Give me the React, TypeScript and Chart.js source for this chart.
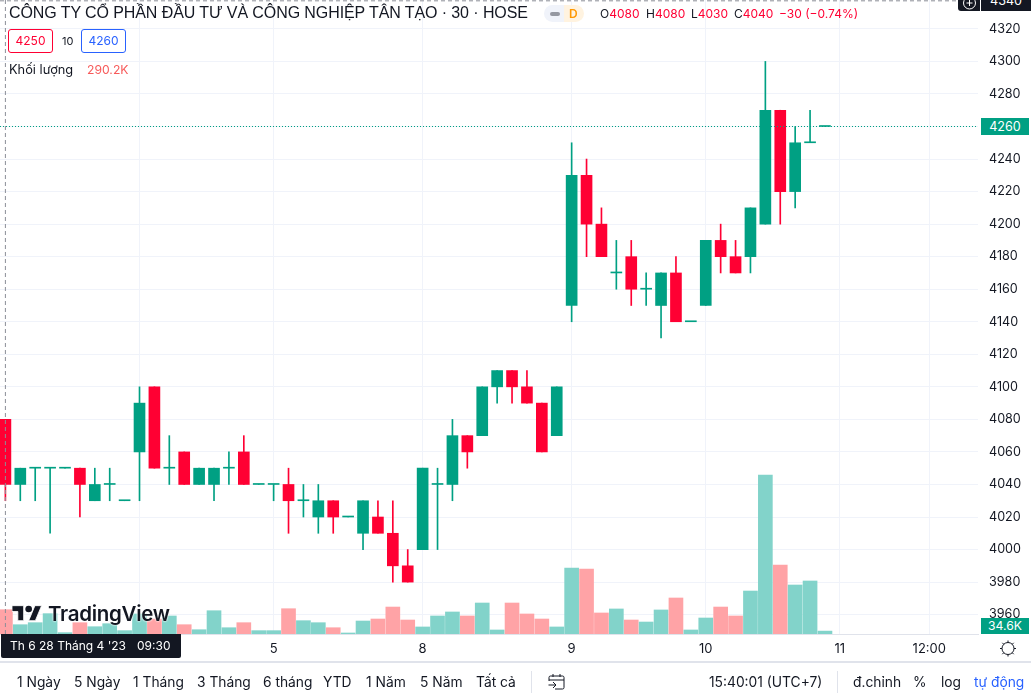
import React, { useEffect, useRef } from "react";
import { Chart, registerables } from "chart.js";

Chart.register(...registerables);

const opens = [4080,4040,4050,4050,4050,4050,4030,4040,4030,4060,4100,4050,4060,4040,4040,4050,4060,4040,4040,4040,4030,4020,4030,4020,4010,4020,4010,3990,4000,4040,4040,4070,4070,4100,4110,4100,4090,4070,4150,4230,4200,4170,4180,4160,4150,4170,4140,4150,4190,4180,4180,4200,4270,4220,4250,4260];
const highs = [4080,4050,4050,4050,4050,4050,4050,4050,4030,4100,4100,4070,4060,4050,4050,4060,4070,4040,4040,4050,4040,4040,4030,4020,4030,4030,4030,4000,4050,4050,4080,4070,4100,4110,4110,4110,4090,4100,4250,4240,4210,4190,4190,4170,4170,4180,4140,4190,4200,4190,4210,4300,4270,4260,4270,4260];
const lows = [4030,4030,4030,4010,4050,4020,4030,4030,4030,4030,4050,4040,4040,4040,4030,4040,4040,4040,4030,4010,4020,4010,4010,4020,4000,4010,3980,3980,4000,4000,4030,4050,4070,4090,4090,4090,4060,4070,4140,4180,4180,4160,4150,4150,4130,4140,4140,4150,4170,4170,4170,4200,4200,4210,4250,4260];
const closes = [4040,4050,4050,4050,4050,4040,4040,4040,4030,4090,4050,4050,4040,4050,4050,4050,4040,4040,4040,4030,4030,4030,4020,4020,4030,4010,3990,3980,4050,4040,4070,4060,4100,4110,4100,4090,4060,4100,4230,4200,4180,4170,4160,4160,4170,4140,4140,4190,4180,4170,4210,4270,4220,4250,4250,4260];
const volumes = [290.2,111,135,243,16,135,87,123,40,239,179,215,111,51,278,75,135,40,40,302,159,135,75,12,155,179,322,167,84,215,263,215,370,48,370,239,179,84,788,776,251,299,167,143,287,430,48,191,322,215,513,1898,824,585,633,34.6];

const timeTickIndexes = [9, 18, 28, 38, 47, 56, 62];
const timeTickLabels = ["4", "5", "8", "9", "10", "11", "12:00"];
const priceTickStep = 20;
const lastPrice = 4260;
const priceMin = 3948.1;
const priceMax = 4337.75;
const indexMin = -0.3624;
const indexMax = 65.27;
const volumeMax = 7570;

const rangeButtons: [string, number][] = [["1 Ngày",17],["5 Ngày",74],["1 Tháng",133],["3 Tháng",197],["6 tháng",263],["YTD",323],["1 Năm",366],["5 Năm",420],["Tất cả",476]];
const rightButtons: [string, number, string][] = [["15:40:01 (UTC+7)",709,"#131722"],["đ.chỉnh",853,"#131722"],["%",913,"#131722"],["log",941,"#131722"],["tự động",974,"#2962ff"]];

const GREEN = "#00a083";
const RED = "#ff0033";
const INK = "#131722";
const FONT = "Inter, Roboto, sans-serif";

const at = (left: number, top: number, extra: React.CSSProperties = {}): React.CSSProperties => ({
  position: "absolute", left, top, whiteSpace: "pre", lineHeight: "18px", fontSize: 12, color: INK, ...extra,
});

export default function App() {
  const ref = useRef<HTMLCanvasElement>(null);
  useEffect(() => {
    const idx = opens.map((_, i) => i);
    const cols = idx.map((i) => (closes[i] >= opens[i] ? GREEN : RED));
    const volCols = idx.map((i) => (closes[i] >= opens[i] ? "#82d3ca" : "#ffa3a6"));
    const chart = new Chart(ref.current!, {
      type: "bar",
      data: {
        datasets: [
          { type: "line", data: [{ x: indexMin, y: lastPrice }, { x: indexMax, y: lastPrice }], borderColor: GREEN, borderWidth: 1, borderDash: [1, 2], pointRadius: 0, yAxisID: "y", order: 1 } as any,
          { type: "line", data: [{ x: 0, y: priceMin }, { x: 0, y: priceMax }], borderColor: "#8b8e97", borderWidth: 1, borderDash: [4, 3], pointRadius: 0, yAxisID: "y", order: 0 } as any,
          { type: "line", data: [{ x: indexMin, y: priceMax - 0.5 }, { x: indexMax, y: priceMax - 0.5 }], borderColor: "#8b8e97", borderWidth: 1, borderDash: [4, 3], pointRadius: 0, yAxisID: "y", order: 0 } as any,
          { data: idx.map((i) => ({ x: i, y: [opens[i], closes[i]] })), backgroundColor: cols, barThickness: 11, minBarLength: 1, grouped: false, yAxisID: "y", order: 2 } as any,
          { data: idx.map((i) => ({ x: i, y: [lows[i], highs[i]] })), backgroundColor: cols, barThickness: 1, grouped: false, yAxisID: "y", order: 3 } as any,
          { data: idx.map((i) => ({ x: i, y: volumes[i] })), backgroundColor: volCols, barThickness: 14, grouped: false, yAxisID: "vol", order: 4 } as any,
        ],
      },
      options: {
        animation: false,
        responsive: false,
        devicePixelRatio: 1,
        events: [],
        layout: { padding: { left: 0, top: 0, right: 0, bottom: 39 } },
        plugins: { legend: { display: false }, tooltip: { enabled: false } },
        scales: {
          x: {
            type: "linear",
            offset: false,
            min: indexMin,
            max: indexMax,
            afterFit: (s: any) => { s.height = 27; s.paddingLeft = 0; s.paddingRight = 0; },
            afterBuildTicks: (s: any) => { s.ticks = timeTickIndexes.map((value) => ({ value })); },
            grid: { color: "#f0f3fa", drawTicks: false, offset: false },
            border: { color: "#e0e3eb", display: true },
            ticks: {
              autoSkip: false, maxRotation: 0, padding: 7, color: INK,
              font: { family: FONT, size: 13 },
              callback: (v: any) => timeTickLabels[timeTickIndexes.indexOf(v)] ?? "",
            },
          },
          y: {
            position: "right",
            min: priceMin,
            max: priceMax,
            afterFit: (s: any) => { s.width = 53; s.paddingTop = 0; s.paddingBottom = 0; },
            grid: { color: "#f0f3fa", drawTicks: false },
            border: { display: false },
            ticks: { stepSize: priceTickStep, includeBounds: false, padding: 11, color: INK, font: { family: FONT, size: 12.6 }, callback: (v: any) => String(v) },
          },
          vol: { display: false, position: "right", min: 0, max: volumeMax },
        },
      } as any,
    });
    return () => chart.destroy();
  }, []);

  return (
    <div style={{ position: "fixed", left: 0, top: 0, width: 1031, height: 700, overflow: "hidden", background: "#fff", fontFamily: FONT }}>
      <canvas ref={ref} width={1031} height={700} style={{ position: "absolute", left: 0, top: 0 }} />

      <div style={at(9, 3, { fontFamily: "'Liberation Sans', Arial, sans-serif", fontSize: 16, lineHeight: "20px", letterSpacing: "-0.09px" })}>CÔNG TY CỔ PHẦN ĐẦU TƯ VÀ CÔNG NGHIỆP TÂN TẠO · 30 · HOSE</div>

      <div style={{ position: "absolute", left: 544, top: 5, width: 20, height: 17, background: "#f0f3fa", borderRadius: "9px 0 0 9px" }}>
        <div style={{ position: "absolute", left: 6, top: 7, width: 10, height: 4, borderRadius: 2, background: "#9598a1" }} />
      </div>
      <div style={{ position: "absolute", left: 564, top: 5, width: 20, height: 17, background: "#fff3e0", borderRadius: "0 9px 9px 0", color: "#ff9800", fontSize: 12, fontWeight: 600, lineHeight: "17px", textIndent: 5 }}>D</div>

      <div style={at(600, 5)}>O<span style={{ color: RED }}>4080</span></div>
      <div style={at(646, 5)}>H<span style={{ color: RED }}>4080</span></div>
      <div style={at(691, 5)}>L<span style={{ color: RED }}>4030</span></div>
      <div style={at(734, 5)}>C<span style={{ color: RED }}>4040</span></div>
      <div style={at(779, 5, { color: RED })}>−30 (−0.74%)</div>

      <div style={at(8, 29, { width: 45, height: 24, boxSizing: "border-box", border: `1px solid ${RED}`, borderRadius: 3, color: RED, textAlign: "center", lineHeight: "22px", fontSize: 12 })}>4250</div>
      <div style={at(62, 32, { fontSize: 11 })}>10</div>
      <div style={at(81, 29, { width: 45, height: 24, boxSizing: "border-box", border: "1px solid #2962ff", borderRadius: 3, color: "#2962ff", textAlign: "center", lineHeight: "22px", fontSize: 12 })}>4260</div>
      <div style={at(9, 61, { fontSize: 12.8 })}>Khối lượng</div>
      <div style={at(87, 61, { color: "#f75a5a", fontSize: 12.2 })}>290.2K</div>

      <svg width="30" height="24" viewBox="0 0 36 28" style={{ position: "absolute", left: 12, top: 602 }}>
        <path d="M14 22H7V11H0V4h14v18zM28 22h-8l7.5-18h8L28 22z" fill={INK} stroke="#fff" strokeWidth="1" />
        <circle cx="20" cy="8" r="4" fill={INK} />
      </svg>
      <div style={at(48, 601, { fontSize: 20.5, fontWeight: 600, lineHeight: "26px", letterSpacing: "-0.3px", textShadow: "0 0 2px #fff, 0 0 2px #fff" })}>TradingView</div>

      <div style={{ position: "absolute", left: 981, top: 118, width: 48, height: 17, background: GREEN, color: "#fff", fontSize: 12.6, lineHeight: "17px", textAlign: "center" }}>{lastPrice}</div>
      <div style={{ position: "absolute", left: 981, top: 618, width: 48, height: 16, background: GREEN, color: "#fff", fontSize: 12.2, lineHeight: "16px", textAlign: "center" }}>34.6K</div>

      <div style={{ position: "absolute", left: 958, top: -8, width: 22, height: 19, background: INK, borderRadius: "3px 0 0 3px" }}>
        <svg width="15" height="15" style={{ position: "absolute", left: 3.5, top: 4 }}><circle cx="7.5" cy="7" r="6" fill="none" stroke="#fff" /><path d="M7.5 4v6M4.5 7h6" stroke="#fff" /></svg>
      </div>
      <div style={{ position: "absolute", left: 981, top: -8, width: 50, height: 19, background: INK, color: "#fff", fontSize: 12.6, lineHeight: "17px", textAlign: "center" }}>4340</div>

      <div style={{ position: "absolute", left: 1, top: 634, width: 180, height: 24, background: INK, color: "#fff", fontSize: 12, lineHeight: "24px", borderRadius: "0 0 2px 2px", whiteSpace: "pre" }}>
        <span style={{ position: "absolute", left: 9 }}>Th 6 28 Tháng 4 '23</span>
        <span style={{ position: "absolute", left: 136 }}>09:30</span>
      </div>

      <svg width="24" height="24" viewBox="0 0 24 24" style={{ position: "absolute", left: 996, top: 637 }}>
        <circle cx="12" cy="11.5" r="6" fill="none" stroke={INK} strokeWidth="1" />
        <path d="M12 3.5v2M12 17.5v2M4 11.5h2M18 11.5h2M6.3 5.8l1.4 1.4M16.3 15.8l1.4 1.4M6.3 17.2l1.4-1.4M16.3 7.2l1.4-1.4" stroke={INK} />
      </svg>

      <div style={{ position: "absolute", left: 0, top: 661, width: 1031, height: 2, background: "#e0e3eb" }} />
      {rangeButtons.map(([t, x]) => <div key={t} style={at(x, 673, { fontSize: 13.8 })}>{t}</div>)}
      {rightButtons.map(([t, x, c]) => <div key={t} style={at(x, 673, { fontSize: 13.8, color: c })}>{t}</div>)}
      <div style={{ position: "absolute", left: 837, top: 671, width: 1, height: 22, background: "#e0e3eb" }} />
      <div style={{ position: "absolute", left: 531, top: 671, width: 1, height: 22, background: "#e0e3eb" }} />
      <svg width="18" height="18" viewBox="0 0 18 18" style={{ position: "absolute", left: 548, top: 673 }}>
        <path d="M1 8V4.5A1.5 1.5 0 0 1 2.5 3h12A1.5 1.5 0 0 1 16 4.5v10a1.5 1.5 0 0 1-1.500 1.500H7M1 7h15M5 1v3M12 1v3M0.500 12H8M5 9l3 3-3 3" fill="none" stroke={INK} />
      </svg>
    </div>
  );
}
